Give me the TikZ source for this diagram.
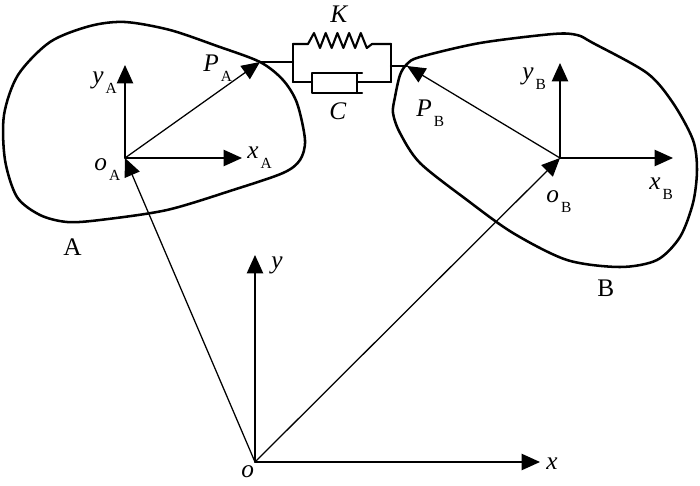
\documentclass[tikz,border=0pt]{standalone}
\usepackage{fontspec}
\setmainfont{Liberation Serif}
\usetikzlibrary{arrows.meta}
\newcommand{\lab}[2]{\textit{#1}\kern1.5pt\raisebox{-0.36em}{\fontsize{11}{12}\selectfont #2}}

\begin{document}
\begin{tikzpicture}[x=0.025cm,y=-0.025cm,line cap=round,line join=round,>={Triangle[length=13pt,width=11.5pt]},
    every node/.style={font=\fontsize{18}{21}\selectfont,inner sep=0pt,anchor=base west},
    vec/.style={->,line width=0.9pt},axis/.style={->,line width=1.1pt},
    body/.style={line width=1.8pt},spr/.style={line width=1.5pt}]
    \useasboundingbox (0,0) rectangle (700,486);
    \coordinate (o) at (255,462);
    \coordinate (x) at (540,462);
    \coordinate (y) at (255,255);
    \coordinate (oA) at (125,158);
    \coordinate (xA) at (242,158);
    \coordinate (yA) at (125,65);
    \coordinate (PA) at (260,62);
    \coordinate (oB) at (560,158);
    \coordinate (xB) at (673,158);
    \coordinate (yB) at (560,63);
    \coordinate (PB) at (407,66);
    % bodies
    \draw [body] plot[smooth cycle] coordinates {(260,62) (283,80) (297,103) (305,140) (300,160) (283,173) (233,190) (167,210) (100,220) (67,222) (40,215) (17,197) (5,160) (4,115) (18,75) (50,42) (90,26) (125,22) (170,30) (217,46)};
    \draw [body] plot[smooth cycle] coordinates {(407,64) (420,57) (480,43) (553,34) (577,35) (593,43) (647,73) (673,103) (693,140) (697,170) (693,203) (680,237) (657,260) (620,267) (567,260) (513,233) (467,200) (420,163) (400,133) (393,113) (395,97) (400,75)};
    % axes
    \draw [axis] (o) -- (x);
    \draw [axis] (o) -- (y);
    \draw [axis] (oA) -- (xA);
    \draw [axis] (oA) -- (yA);
    \draw [axis] (oB) -- (xB);
    \draw [axis] (oB) -- (yB);
    \draw [vec] (o) -- (oA);
    \draw [vec] (o) -- (oB);
    \draw [vec] (oA) -- (PA);
    \draw [vec] (oB) -- (PB);
    % spring and damper
    \coordinate (kl) at (293,62);
    \coordinate (kr) at (391,66);
    \draw [spr] (PA) -- (kl);
    \draw [spr] (kr) -- (PB);
    \draw [spr] (293,44) -- (293,82);
    \draw [spr] (391,44) -- (391,82);
    \draw [spr] (293,44) -- (308,44) \foreach \i in {0,...,4} {-- ({314+11.7*\i},33) -- ({320+11.7*\i},48)} -- (372,44) -- (391,44);
    \draw [spr] (293,82) -- (312,82);
    \draw [spr] (362,73) -- (312,73) -- (312,93) -- (362,93);
    \draw [spr] (357,73) -- (357,93);
    \draw [spr] (357,82) -- (391,82);
    % labels
    \node (lyA) at (92,84) {\lab{y}{A}};
    \node (lPA) at (203,72) {\lab{P}{A}};
    \node (lxA) at (247,159) {\lab{x}{A}};
    \node (loA) at (94,171) {\lab{o}{A}};
    \node (lPB) at (416,117) {\lab{P}{B}};
    \node (lyB) at (522,80) {\lab{y}{B}};
    \node (lxB) at (649,190) {\lab{x}{B}};
    \node (loB) at (546,203) {\lab{o}{B}};
    \node (lK) at (330,23) {\textit{K}};
    \node (lC) at (329,120) {\textit{C}};
    \node (lA) at (63,256) {A};
    \node (lB) at (597,296) {B};
    \node (lx) at (546,470) {\textit{x}};
    \node (ly) at (271,269) {\textit{y}};
    \node (lo) at (241,478) {\textit{o}};
\end{tikzpicture}
\end{document}
